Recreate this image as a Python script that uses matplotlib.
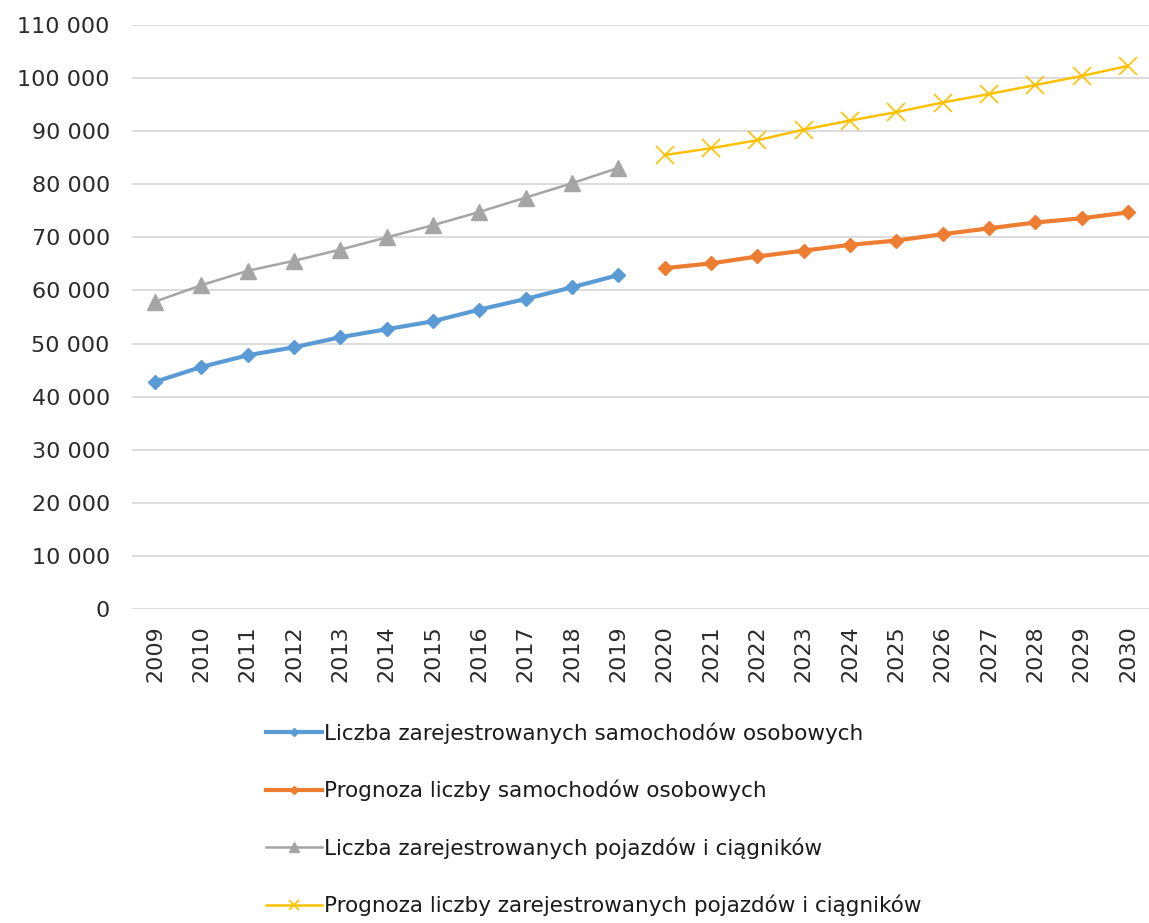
import numpy as np
import matplotlib
matplotlib.use('Agg')
import matplotlib.pyplot as plt
from matplotlib.ticker import FuncFormatter, MultipleLocator

# data
years_hist = list(range(2009, 2020))
years_prog = list(range(2020, 2031))
cars_hist = [42800, 45600, 47800, 49300, 51200, 52700, 54200, 56400, 58400, 60600, 62900]
cars_prog = [64200, 65100, 66400, 67500, 68600, 69400, 70600, 71700, 72800, 73600, 74700]
veh_hist = [57900, 61000, 63700, 65600, 67700, 70000, 72300, 74800, 77500, 80200, 83100]
veh_prog = [85500, 86800, 88300, 90300, 92000, 93600, 95400, 97000, 98700, 100400, 102300]
labels = ['Liczba zarejestrowanych samochodów osobowych',
          'Prognoza liczby samochodów osobowych',
          'Liczba zarejestrowanych pojazdów i ciągników',
          'Prognoza liczby zarejestrowanych pojazdów i ciągników']

plt.rcParams['font.family'] = ['DejaVu Sans']

fig = plt.figure(figsize=(11.49, 9.23), dpi=100)
ax = fig.add_axes([132/1149, (923-609)/923, 1 - 132/1149, (609-25)/923])

ax.plot(years_hist, cars_hist, color='#5B9BD5', lw=3, marker='D', ms=7, label=labels[0])
ax.plot(years_prog, cars_prog, color='#ED7D31', lw=3, marker='D', ms=7, label=labels[1])
ax.plot(years_hist, veh_hist, color='#A5A5A5', lw=1.8, marker='^', ms=11, label=labels[2])
ax.plot(years_prog, veh_prog, color='#FFC000', lw=1.8, marker='x', ms=13, mew=1.2, label=labels[3])

ax.set_ylim(0, 110000)
ax.set_xlim(2008.5, 2030.45)
ax.yaxis.set_major_locator(MultipleLocator(10000))
ax.yaxis.set_major_formatter(FuncFormatter(lambda v, p: f"{v:,.0f}".replace(',', ' ')))
ax.set_xticks(years_hist + years_prog)
ax.set_xticklabels([str(y) for y in years_hist + years_prog], rotation=90)
ax.grid(axis='y', color='#D9D9D9', lw=1.3)
ax.set_axisbelow(True)
for s in ax.spines.values():
    s.set_visible(False)
ax.tick_params(axis='both', length=0, labelsize=16, labelcolor='#2b2b2b')
ax.tick_params(axis='y', pad=16)
ax.tick_params(axis='x', pad=12)

leg = fig.legend(loc='upper left', bbox_to_anchor=(266/1149, 1 - 722/923), frameon=False,
                 fontsize=15.5, handlelength=2.6, handletextpad=0.1, labelspacing=1.68,
                 borderpad=0, borderaxespad=0, markerscale=0.6)
for t in leg.get_texts():
    t.set_color('#1a1a1a')

fig.savefig('out.png', dpi=100)
